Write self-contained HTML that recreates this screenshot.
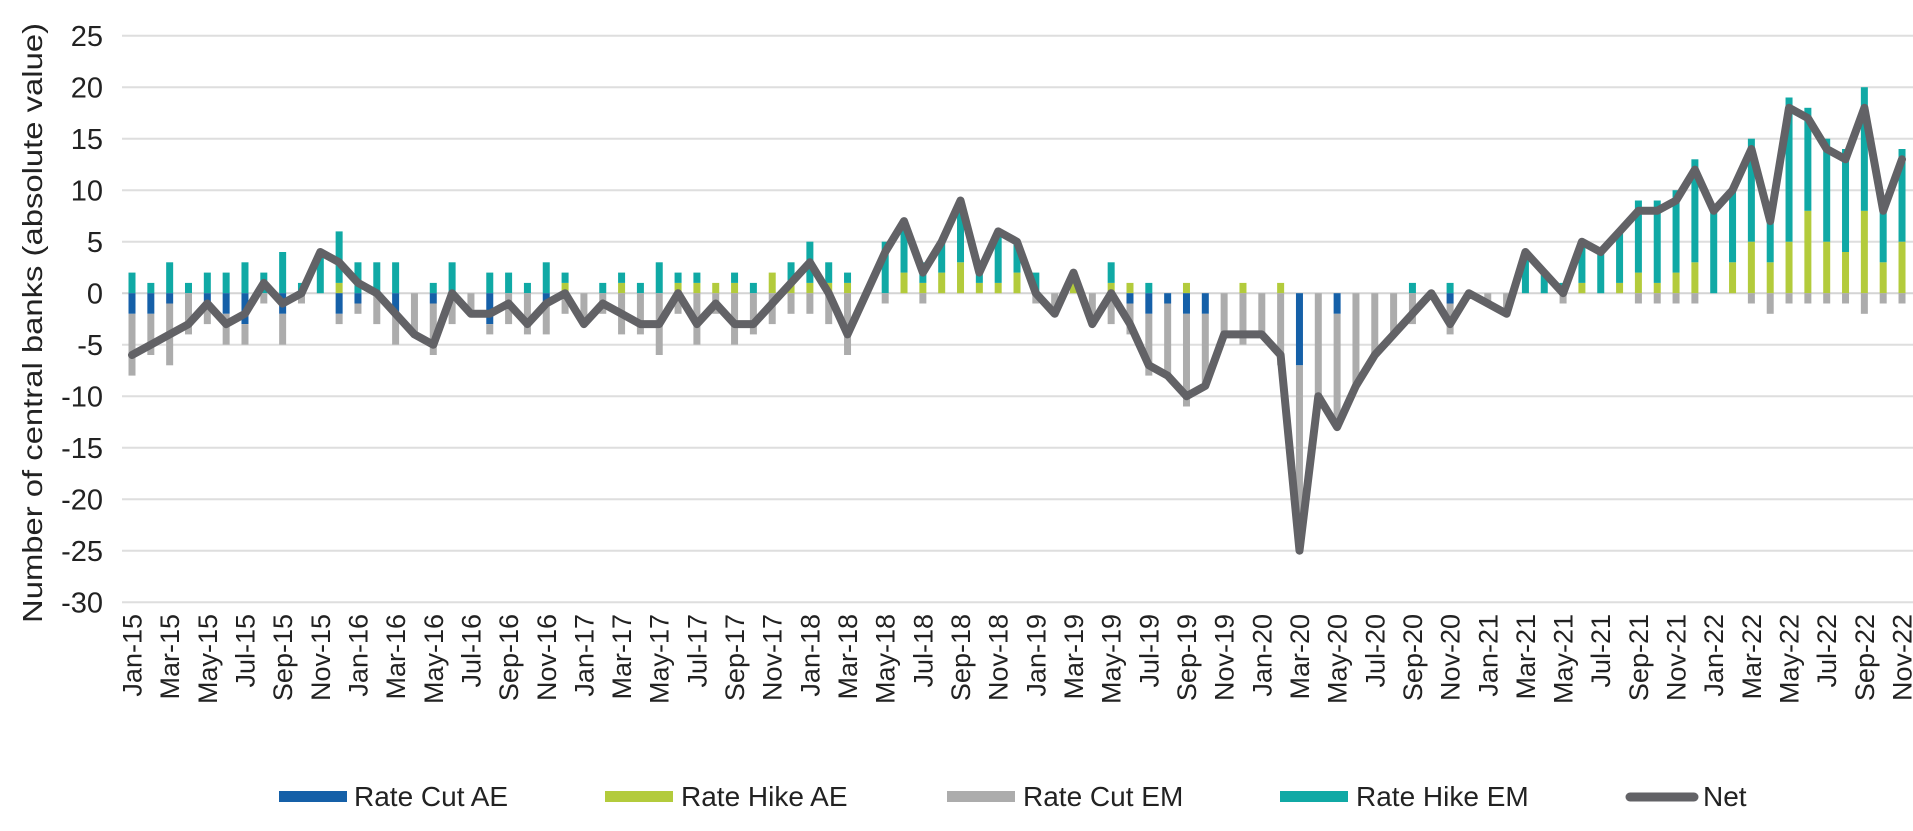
<!DOCTYPE html>
<html><head><meta charset="utf-8"><style>
html,body{margin:0;padding:0;background:#fff;}
svg{display:block;font-family:"Liberation Sans",sans-serif;}
</style></head><body>
<svg id="c" width="1913" height="831" viewBox="0 0 1913 831" xmlns="http://www.w3.org/2000/svg">
<g id="grid" stroke="#dedede" stroke-width="2">
<line x1="122" x2="1913" y1="35.7" y2="35.7"/>
<line x1="122" x2="1913" y1="87.2" y2="87.2"/>
<line x1="122" x2="1913" y1="138.7" y2="138.7"/>
<line x1="122" x2="1913" y1="190.2" y2="190.2"/>
<line x1="122" x2="1913" y1="241.7" y2="241.7"/>
<line x1="122" x2="1913" y1="293.2" y2="293.2" stroke="#d4d4d4"/>
<line x1="122" x2="1913" y1="344.7" y2="344.7"/>
<line x1="122" x2="1913" y1="396.2" y2="396.2"/>
<line x1="122" x2="1913" y1="447.7" y2="447.7"/>
<line x1="122" x2="1913" y1="499.2" y2="499.2"/>
<line x1="122" x2="1913" y1="550.7" y2="550.7"/>
<line x1="122" x2="1913" y1="602.2" y2="602.2"/>
</g>
<g font-size="29" fill="#222" text-anchor="end">
<text x="103" y="46">25</text>
<text x="103" y="97.5">20</text>
<text x="103" y="149">15</text>
<text x="103" y="200.5">10</text>
<text x="103" y="252">5</text>
<text x="103" y="303.5">0</text>
<text x="103" y="355">-5</text>
<text x="103" y="406.5">-10</text>
<text x="103" y="458">-15</text>
<text x="103" y="509.5">-20</text>
<text x="103" y="561">-25</text>
<text x="103" y="612.5">-30</text>
</g>
<text transform="translate(42,323) rotate(-90)" text-anchor="middle" font-size="28" fill="#222" textLength="600" lengthAdjust="spacingAndGlyphs">Number of central banks (absolute value)</text>
<g id="bars"></g>
<polyline id="net" fill="none" stroke="#626266" stroke-width="8" stroke-linejoin="round" stroke-linecap="round"/>
<g id="xl" font-size="27" fill="#222" text-anchor="end">
<text transform="translate(141.5,614) rotate(-90)">Jan-15</text>
<text transform="translate(179.2,614) rotate(-90)">Mar-15</text>
<text transform="translate(216.8,614) rotate(-90)">May-15</text>
<text transform="translate(254.5,614) rotate(-90)">Jul-15</text>
<text transform="translate(292.1,614) rotate(-90)">Sep-15</text>
<text transform="translate(329.8,614) rotate(-90)">Nov-15</text>
<text transform="translate(367.5,614) rotate(-90)">Jan-16</text>
<text transform="translate(405.1,614) rotate(-90)">Mar-16</text>
<text transform="translate(442.8,614) rotate(-90)">May-16</text>
<text transform="translate(480.4,614) rotate(-90)">Jul-16</text>
<text transform="translate(518.1,614) rotate(-90)">Sep-16</text>
<text transform="translate(555.8,614) rotate(-90)">Nov-16</text>
<text transform="translate(593.4,614) rotate(-90)">Jan-17</text>
<text transform="translate(631.1,614) rotate(-90)">Mar-17</text>
<text transform="translate(668.7,614) rotate(-90)">May-17</text>
<text transform="translate(706.4,614) rotate(-90)">Jul-17</text>
<text transform="translate(744.1,614) rotate(-90)">Sep-17</text>
<text transform="translate(781.7,614) rotate(-90)">Nov-17</text>
<text transform="translate(819.4,614) rotate(-90)">Jan-18</text>
<text transform="translate(857.0,614) rotate(-90)">Mar-18</text>
<text transform="translate(894.7,614) rotate(-90)">May-18</text>
<text transform="translate(932.4,614) rotate(-90)">Jul-18</text>
<text transform="translate(970.0,614) rotate(-90)">Sep-18</text>
<text transform="translate(1007.7,614) rotate(-90)">Nov-18</text>
<text transform="translate(1045.3,614) rotate(-90)">Jan-19</text>
<text transform="translate(1083.0,614) rotate(-90)">Mar-19</text>
<text transform="translate(1120.7,614) rotate(-90)">May-19</text>
<text transform="translate(1158.3,614) rotate(-90)">Jul-19</text>
<text transform="translate(1196.0,614) rotate(-90)">Sep-19</text>
<text transform="translate(1233.6,614) rotate(-90)">Nov-19</text>
<text transform="translate(1271.3,614) rotate(-90)">Jan-20</text>
<text transform="translate(1309.0,614) rotate(-90)">Mar-20</text>
<text transform="translate(1346.6,614) rotate(-90)">May-20</text>
<text transform="translate(1384.3,614) rotate(-90)">Jul-20</text>
<text transform="translate(1421.9,614) rotate(-90)">Sep-20</text>
<text transform="translate(1459.6,614) rotate(-90)">Nov-20</text>
<text transform="translate(1497.3,614) rotate(-90)">Jan-21</text>
<text transform="translate(1534.9,614) rotate(-90)">Mar-21</text>
<text transform="translate(1572.6,614) rotate(-90)">May-21</text>
<text transform="translate(1610.2,614) rotate(-90)">Jul-21</text>
<text transform="translate(1647.9,614) rotate(-90)">Sep-21</text>
<text transform="translate(1685.6,614) rotate(-90)">Nov-21</text>
<text transform="translate(1723.2,614) rotate(-90)">Jan-22</text>
<text transform="translate(1760.9,614) rotate(-90)">Mar-22</text>
<text transform="translate(1798.5,614) rotate(-90)">May-22</text>
<text transform="translate(1836.2,614) rotate(-90)">Jul-22</text>
<text transform="translate(1873.9,614) rotate(-90)">Sep-22</text>
<text transform="translate(1911.5,614) rotate(-90)">Nov-22</text>
</g>
<g font-size="28" fill="#222">
<rect x="279" y="791" width="68" height="11" fill="#1560a8"/>
<text x="354" y="806">Rate Cut AE</text>
<rect x="605" y="791" width="68" height="11" fill="#b3cb3c"/>
<text x="681" y="806">Rate Hike AE</text>
<rect x="947" y="791" width="68" height="11" fill="#acacac"/>
<text x="1023" y="806">Rate Cut EM</text>
<rect x="1280" y="791" width="68" height="11" fill="#10a9a5"/>
<text x="1356" y="806">Rate Hike EM</text>
<line x1="1630" x2="1694" y1="797" y2="797" stroke="#626266" stroke-width="9" stroke-linecap="round"/>
<text x="1703" y="806">Net</text>
</g>
</svg>
<script>
var d=[[0,2,2,6,-6],[0,1,2,4,-5],[0,3,1,6,-4],[0,1,0,4,-3],[0,2,1,2,-1],[0,2,2,3,-3],[0,3,3,2,-2],[0,2,0,1,1],[0,4,2,3,-1],[0,1,0,1,0],
[0,4,0,0,4],[1,5,2,1,3],[0,3,1,1,1],[0,3,0,3,0],[0,3,2,3,-2],[0,0,0,4,-4],[0,1,1,5,-5],[0,3,0,3,0],[0,0,0,2,-2],[0,2,3,1,-2],
[0,2,0,3,-1],[0,1,0,4,-3],[0,3,1,3,-1],[1,1,0,2,0],[0,0,0,3,-3],[0,1,0,2,-1],[1,1,0,4,-2],[0,1,0,4,-3],[0,3,0,6,-3],[1,1,0,2,0],
[1,1,0,5,-3],[1,0,0,2,-1],[1,1,0,5,-3],[0,1,0,4,-3],[2,0,0,3,-1],[1,2,0,2,1],[1,4,0,2,3],[1,2,0,3,0],[1,1,0,6,-4],[0,0,0,0,0],
[0,5,0,1,4],[2,5,0,0,7],[1,2,0,1,2],[2,3,0,0,5],[3,6,0,0,9],[1,1,0,0,2],[1,5,0,0,6],[2,3,0,0,5],[0,2,0,1,0],[0,0,0,2,-2],
[1,1,0,0,2],[0,0,0,3,-3],[1,2,0,3,0],[1,0,1,3,-3],[0,1,2,6,-7],[0,0,1,7,-8],[1,0,2,9,-10],[0,0,2,7,-9],[0,0,0,4,-4],[1,0,0,5,-4],
[0,0,0,4,-4],[1,0,0,7,-6],[0,0,7,18,-25],[0,0,0,10,-10],[0,0,2,11,-13],[0,0,0,9,-9],[0,0,0,6,-6],[0,0,0,4,-4],[0,1,0,3,-2],[0,0,0,0,0],
[0,1,1,3,-3],[0,0,0,0,0],[0,0,0,1,-1],[0,0,0,2,-2],[0,4,0,0,4],[0,2,0,0,2],[0,1,0,1,0],[1,4,0,0,5],[0,4,0,0,4],[1,5,0,0,6],
[2,7,0,1,8],[1,8,0,1,8],[2,8,0,1,9],[3,10,0,1,12],[0,8,0,0,8],[3,7,0,0,10],[5,10,0,1,14],[3,4,0,2,7],[5,14,0,1,18],[8,10,0,1,17],
[5,10,0,1,14],[4,10,0,1,13],[8,12,0,2,18],[3,5,0,1,8],[5,9,0,1,13]];
var ns="http://www.w3.org/2000/svg",g=document.getElementById("bars"),Z=293.2,U=10.3,pts=[];
function r(x,y,h,c){if(h<=0)return;var e=document.createElementNS(ns,"rect");e.setAttribute("x",x-3.5);e.setAttribute("y",y);e.setAttribute("width",7);e.setAttribute("height",h);e.setAttribute("fill",c);g.appendChild(e);}
d.forEach(function(v,i){var x=132+18.83*i;
r(x,Z-v[0]*U,v[0]*U,"#b3cb3c");
r(x,Z-(v[0]+v[1])*U,v[1]*U,"#10a9a5");
r(x,Z,v[2]*U,"#1560a8");
r(x,Z+v[2]*U,v[3]*U,"#acacac");
pts.push(x.toFixed(1)+","+(Z-v[4]*U).toFixed(1));});
document.getElementById("net").setAttribute("points",pts.join(" "));
</script>
</body></html>
